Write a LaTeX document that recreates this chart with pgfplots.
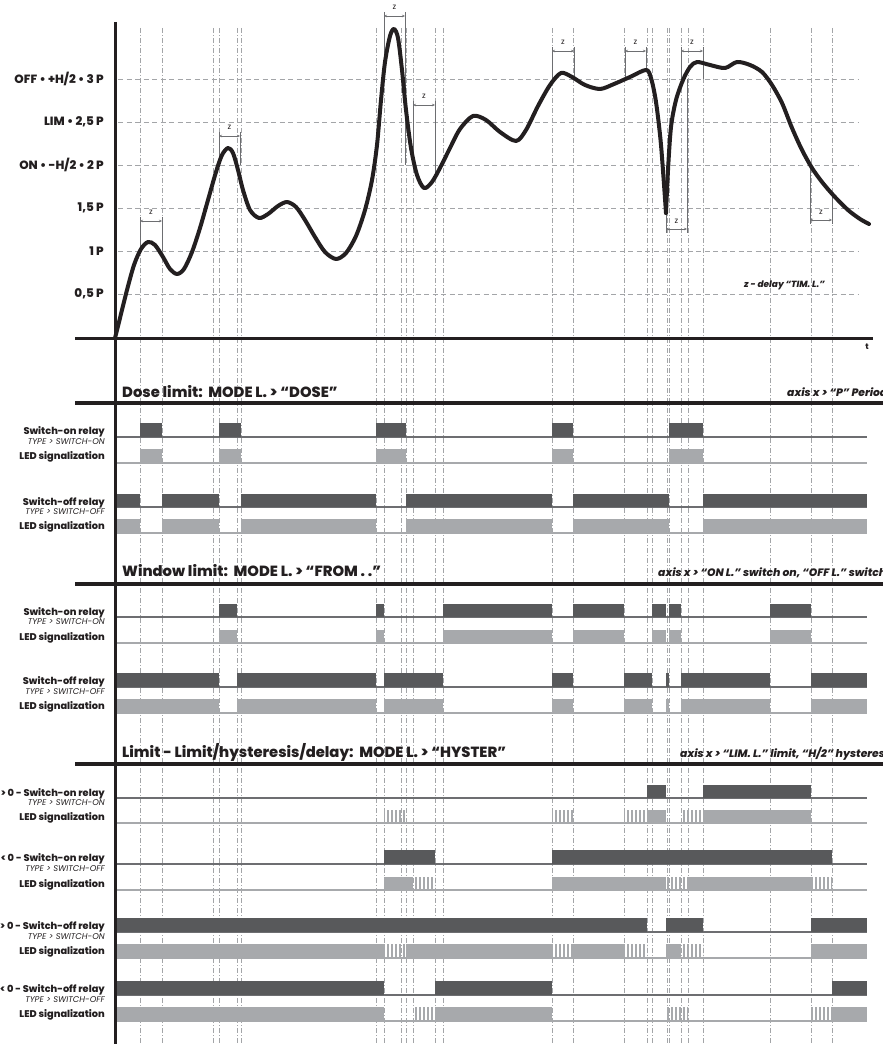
\documentclass[border=0pt]{standalone}
\usepackage{fontspec}
\setmainfont{Poppins}[BoldFont={Poppins ExtraBold},BoldItalicFont={Poppins ExtraBold Italic}]
\usepackage{pgfplots}
\pgfplotsset{compat=1.18}
\usetikzlibrary{patterns.meta,arrows.meta}
\definecolor{relay}{HTML}{58595B}
\definecolor{led}{HTML}{A7A9AC}
\definecolor{gridc}{HTML}{A3A5A8}
\definecolor{ink}{HTML}{231F20}
\definecolor{base}{HTML}{6D6E71}
\newcommand{\RB}[4]{\addplot[draw=none,fill=relay] coordinates {(#1,#3) (#2,#3) (#2,#4) (#1,#4)};}
\newcommand{\LS}[4]{\addplot[draw=none,fill=led] coordinates {(#1,#3) (#2,#3) (#2,#4) (#1,#4)};}
\newcommand{\LH}[4]{\addplot[draw=none,pattern={Lines[angle=90,distance=4bp,line width=2bp]},pattern color=led] coordinates {(#1,#3) (#2,#3) (#2,#4) (#1,#4)};}
\newcommand{\BL}[2]{\addplot[#2] coordinates {(115,#1) (867,#1)};}
\newcommand{\ZB}[7]{% x1 x2 y bottom1 bottom2 labelx labely
 \addplot[base,line width=0.7bp,{Stealth[length=3bp,width=2.5bp]}-{Stealth[length=3bp,width=2.5bp]}] coordinates {(#1,#3) (#2,#3)};
 \addplot[base,line width=0.7bp] coordinates {(#1,#3-4) (#1,#4)};
 \addplot[base,line width=0.7bp] coordinates {(#2,#3-4) (#2,#5)};
 \node[font=\fontsize{8}{9}\selectfont,text=ink] at (axis cs:#6,#7) {z};}
\newcommand{\RL}[4]{% top bottom name type
 \node[anchor=base east,font=\bfseries\fontsize{9.8}{11}\selectfont,text=ink,inner sep=0] at (axis cs:105,#1+11) {#3};
 \node[anchor=base east,font=\itshape\fontsize{8.4}{9}\selectfont,text=ink,inner sep=0] at (axis cs:105,#2+7) {#4};}
\newcommand{\LL}[1]{\node[anchor=base east,font=\bfseries\fontsize{9.8}{11}\selectfont,text=ink,inner sep=0] at (axis cs:105,#1+10) {LED signalization};}
\begin{document}
\begin{tikzpicture}
\useasboundingbox (0,0) rectangle (883bp,1044bp);
\clip (0,0) rectangle (883bp,1044bp);
\begin{axis}[scale only axis, width=883bp, height=1044bp, xmin=0, xmax=883, ymin=0, ymax=1044, y dir=reverse, hide axis, clip=false]
% horizontal grid
\pgfplotsinvokeforeach{79,122,165,208,251,294}{
 \addplot[gridc,line width=0.8bp,dash pattern=on 5bp off 3.5bp] coordinates {(118,#1) (858,#1)};}
% vertical dash-dot lines
\pgfplotsinvokeforeach{140,162,213,219,237,241,376,384,401,406,413,435,443,552,573,624,647,652,667,669,681,688,703,770,811,832}{
 \addplot[gridc,line width=0.6bp,dash pattern=on 5bp off 2bp on 1bp off 2bp] coordinates {(#1,28) (#1,1044)};}
% ===== Section 1: Dose
\BL{437}{base,line width=1.2bp}
\BL{463}{led,line width=1.5bp}
\BL{507}{base,line width=1.2bp}
\BL{533}{led,line width=1.5bp}
\RB{140}{162}{423}{437}\RB{219}{241}{423}{437}\RB{376}{406}{423}{437}\RB{552}{573}{423}{437}\RB{669}{703}{423}{437}
\LS{140}{162}{449}{463}\LS{219}{241}{449}{463}\LS{376}{406}{449}{463}\LS{552}{573}{449}{463}\LS{669}{703}{449}{463}
\RB{115}{140}{494}{507}\RB{162}{219}{494}{507}\RB{241}{376}{494}{507}\RB{406}{552}{494}{507}\RB{573}{669}{494}{507}\RB{703}{867}{494}{507}
\LS{115}{140}{519}{533}\LS{162}{219}{519}{533}\LS{241}{376}{519}{533}\LS{406}{552}{519}{533}\LS{573}{669}{519}{533}\LS{703}{867}{519}{533}
% ===== Section 2: Window
\BL{617}{base,line width=1.2bp}
\BL{643}{led,line width=1.5bp}
\BL{687}{base,line width=1.2bp}
\BL{713}{led,line width=1.5bp}
\RB{219}{237}{604}{617}\RB{376}{384}{604}{617}\RB{443}{552}{604}{617}\RB{573}{624}{604}{617}\RB{652}{666}{604}{617}\RB{669}{681}{604}{617}\RB{770}{811}{604}{617}
\LS{219}{237}{630}{643}\LS{376}{384}{630}{643}\LS{443}{552}{630}{643}\LS{573}{624}{630}{643}\LS{652}{666}{630}{643}\LS{669}{681}{630}{643}\LS{770}{811}{630}{643}
\RB{115}{219}{673}{687}\RB{237}{376}{673}{687}\RB{384}{443}{673}{687}\RB{552}{573}{673}{687}\RB{624}{652}{673}{687}\RB{666}{669}{673}{687}\RB{681}{770}{673}{687}\RB{811}{867}{673}{687}
\LS{115}{219}{699}{713}\LS{237}{376}{699}{713}\LS{384}{443}{699}{713}\LS{552}{573}{699}{713}\LS{624}{652}{699}{713}\LS{666}{669}{699}{713}\LS{681}{770}{699}{713}\LS{811}{867}{699}{713}
% ===== Section 3: Hyster
\BL{798}{base,line width=1.2bp}
\BL{823}{led,line width=1.5bp}
\BL{864}{base,line width=1.2bp}
\BL{890}{led,line width=1.5bp}
\BL{932}{base,line width=1.2bp}
\BL{958}{led,line width=1.5bp}
\BL{995}{base,line width=1.2bp}
\BL{1021}{led,line width=1.5bp}
% A
\RB{647}{666}{785}{798}\RB{703}{811}{785}{798}
\LH{384}{406}{810}{823}\LH{552}{573}{810}{823}\LH{624}{647}{810}{823}\LS{647}{666}{810}{823}\LH{681}{703}{810}{823}\LS{703}{811}{810}{823}
% B
\RB{384}{435}{850}{864}\RB{552}{832}{850}{864}
\LS{384}{413}{877}{890}\LH{413}{435}{877}{890}\LS{552}{666}{877}{890}\LH{666}{688}{877}{890}\LS{688}{811}{877}{890}\LH{811}{832}{877}{890}
% C
\RB{115}{647}{918}{932}\RB{666}{703}{918}{932}\RB{811}{867}{918}{932}
\LS{115}{384}{944}{958}\LH{384}{406}{944}{958}\LS{406}{552}{944}{958}\LH{552}{573}{944}{958}\LS{573}{624}{944}{958}\LH{624}{647}{944}{958}\LS{666}{681}{944}{958}\LH{681}{703}{944}{958}\LS{811}{867}{944}{958}
% D
\RB{115}{384}{981}{995}\RB{435}{552}{981}{995}\RB{832}{867}{981}{995}
\LS{115}{384}{1007}{1021}\LH{413}{435}{1007}{1021}\LS{435}{552}{1007}{1021}\LH{666}{688}{1007}{1021}\LH{811}{832}{1007}{1021}\LS{832}{867}{1007}{1021}
% ===== axes lines
\addplot[ink,line width=3bp] coordinates {(115,22) (115,1044)};
\addplot[ink,line width=3bp] coordinates {(75,338) (873,338)};
\addplot[ink,line width=3.5bp] coordinates {(75,403) (883,403)};
\addplot[ink,line width=3.5bp] coordinates {(75,584) (883,584)};
\addplot[ink,line width=3.5bp] coordinates {(75,764) (883,764)};
% ===== z brackets
\ZB{140}{162}{221}{251}{251}{151}{212}
\ZB{219}{240}{136}{165}{165}{229.5}{127}
\ZB{384}{405}{16}{79}{165}{394.5}{7}
\ZB{413}{435}{105}{165}{178}{424}{96}
\ZB{552}{574}{51}{79}{79}{563}{42}
\ZB{625}{646}{51}{79}{70}{635.5}{42}
\ZB{681}{703}{51}{87}{79}{692}{42}
\addplot[base,line width=0.7bp,{Stealth[length=3bp,width=2.5bp]}-{Stealth[length=3bp,width=2.5bp]}] coordinates {(666,229) (687,229)};
\addplot[base,line width=0.7bp] coordinates {(666,233) (666,213)};
\addplot[base,line width=0.7bp] coordinates {(687,233) (687,79)};
\node[font=\fontsize{8}{9}\selectfont,text=ink] at (axis cs:676.5,221) {z};
\addplot[base,line width=0.7bp,{Stealth[length=3bp,width=2.5bp]}-{Stealth[length=3bp,width=2.5bp]}] coordinates {(810,220) (832,220)};
\addplot[base,line width=0.7bp] coordinates {(810,224) (810,165)};
\addplot[base,line width=0.7bp] coordinates {(832,224) (832,195)};
\node[font=\fontsize{8}{9}\selectfont,text=ink] at (axis cs:821,212) {z};
% ===== curve
\addplot[ink,line width=4bp,smooth,tension=0.5,line cap=round,line join=round] coordinates {
(115,338) (120,318) (127,290) (134,265) (141,249) (148,242) (155,245) (163,257) (170,269) (177,274) (184,269) (192,252) (200,228) (208,200) (216,172) (222,155) (228,148) (233,153) (238,170) (243,190) (250,210) (259,218) (268,214) (278,206) (287,202) (296,207) (305,220) (315,237) (325,252) (336,259) (346,253) (356,236) (365,210) (372,180) (377,145) (381,100) (385,62) (390,36) (394,29) (398,38) (402,70) (406,110) (411,148) (417,175) (424,188) (432,182) (441,166) (450,148) (460,129) (473,116) (486,120) (500,132) (516,141) (526,130) (538,106) (550,85) (561,73) (572,77) (585,85) (600,89) (614,84) (630,77) (646,70) (651,78) (656,102) (661,145) (666,213)};
\addplot[ink,line width=4bp,smooth,tension=0.5,line cap=round,line join=round] coordinates {
(666,213) (668,170) (671,127) (676,100) (683,80) (690,67) (697,62) (710,65) (725,68) (737,62) (750,65) (762,72) (772,85) (782,103) (792,128) (802,150) (812,168) (822,182) (834,196) (848,210) (860,219) (869,224)};
% ===== texts
\begin{scope}[every node/.style={anchor=east,font=\bfseries\fontsize{12}{12}\selectfont,text=ink,inner sep=0}]
\node at (axis cs:104,79) {OFF \textbullet{} +H/2 \textbullet{} 3 P};
\node at (axis cs:104,122) {LIM \textbullet{} 2,5 P};
\node at (axis cs:104,165) {ON \textbullet{} -H/2 \textbullet{} 2 P};
\node at (axis cs:104,208) {1,5 P};
\node at (axis cs:104,251) {1 P};
\node at (axis cs:104,294) {0,5 P};
\end{scope}
\node[anchor=base west,font=\bfseries\itshape\fontsize{9}{10}\selectfont,text=ink,inner sep=0] at (axis cs:744,287) {z - delay “TIM. L.”};
\node[font=\bfseries\fontsize{8}{9}\selectfont,text=ink,inner sep=0] at (axis cs:867,347) {t};
\node[anchor=base west,font=\bfseries\fontsize{14.8}{15}\selectfont,text=ink,inner sep=0] at (axis cs:122,397) {Dose limit:\ \ MODE L. > “DOSE”};
\node[anchor=base west,font=\bfseries\fontsize{14.8}{15}\selectfont,text=ink,inner sep=0] at (axis cs:122,576) {Window limit:\ \ MODE L. > “FROM . .”};
\node[anchor=base west,font=\bfseries\fontsize{14.8}{15}\selectfont,text=ink,inner sep=0] at (axis cs:122,757) {Limit - Limit/hysteresis/delay:\ \ MODE L. > “HYSTER”};
\node[anchor=base west,font=\bfseries\itshape\fontsize{10.8}{11}\selectfont,text=ink,inner sep=0] at (axis cs:787,396) {axis x > “P” Period};
\node[anchor=base west,font=\bfseries\itshape\fontsize{10.8}{11}\selectfont,text=ink,inner sep=0] at (axis cs:658,576) {axis x > “ON L.” switch on, “OFF L.” switch off};
\node[anchor=base west,font=\bfseries\itshape\fontsize{10.8}{11}\selectfont,text=ink,inner sep=0] at (axis cs:680,757) {axis x > “LIM. L.” limit, “H/2” hysteresis};
% row labels
\RL{423}{437}{Switch-on relay}{TYPE > SWITCH-ON}\LL{449}
\RL{494}{507}{Switch-off relay}{TYPE > SWITCH-OFF}\LL{519}
\RL{604}{617}{Switch-on relay}{TYPE > SWITCH-ON}\LL{630}
\RL{673}{687}{Switch-off relay}{TYPE > SWITCH-OFF}\LL{699}
\RL{785}{798}{> 0 - Switch-on relay}{TYPE > SWITCH-ON}\LL{810}
\RL{850}{864}{< 0 - Switch-on relay}{TYPE > SWITCH-OFF}\LL{877}
\RL{918}{932}{> 0 - Switch-off relay}{TYPE > SWITCH-ON}\LL{944}
\RL{981}{995}{< 0 - Switch-off relay}{TYPE > SWITCH-OFF}\LL{1007}
\end{axis}
\end{tikzpicture}
\end{document}
